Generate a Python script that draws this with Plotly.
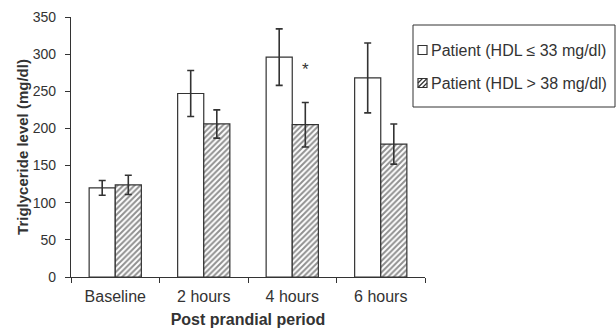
import plotly.graph_objects as go

categories = ["Baseline", "2 hours", "4 hours", "6 hours"]
low_hdl_mean = [120, 247, 296, 268]
low_hdl_err = [10, 31, 38, 47]
high_hdl_mean = [124, 206, 205, 179]
high_hdl_err = [13, 19, 30, 27]
series_names = ["Patient (HDL \u2264 33 mg/dl)", "Patient (HDL > 38 mg/dl)"]
star_category = "4 hours"
star_value = 280

FONT = "Liberation Sans, Arial, sans-serif"
INK = "#333333"

W, H = 616, 334
ML, MR, MT, MB = 71, 191, 17, 57
PW, PH = W - ML - MR, H - MT - MB


def px(x):
    return (x - ML) / PW


def py(y):
    return (H - MB - y) / PH


fig = go.Figure()
fig.add_trace(go.Bar(
    x=categories, y=low_hdl_mean, name=series_names[0],
    marker=dict(color="white", line=dict(color=INK, width=1.2)),
    error_y=dict(type="data", array=low_hdl_err, color=INK, thickness=1.6, width=3.5),
    showlegend=False,
))
fig.add_trace(go.Bar(
    x=categories, y=high_hdl_mean, name=series_names[1],
    marker=dict(color="white", line=dict(color=INK, width=1.2),
                pattern=dict(shape="/", fgcolor="#222222", bgcolor="white", size=4, solidity=0.5)),
    error_y=dict(type="data", array=high_hdl_err, color=INK, thickness=1.6, width=3.5),
    showlegend=False,
))

fig.add_annotation(x=star_category, y=star_value, xref="x", yref="y", text="*",
                   showarrow=False, xshift=13, font=dict(size=17, color=INK, family=FONT))

# legend box (drawn manually to match the compact reference legend)
shapes = [
    dict(type="rect", xref="paper", yref="paper", x0=px(413), x1=px(615), y0=py(107), y1=py(25),
         line=dict(color=INK, width=1), fillcolor="white", layer="above"),
    dict(type="rect", xref="paper", yref="paper", x0=px(418), x1=px(427), y0=py(54.5), y1=py(45.5),
         line=dict(color=INK, width=1.2), fillcolor="white", layer="above"),
    dict(type="rect", xref="paper", yref="paper", x0=px(418), x1=px(427), y0=py(87.5), y1=py(78.5),
         line=dict(color=INK, width=1.2), fillcolor="white", layer="above"),
]
for (x0, y0, x1, y1) in [(418, 87.5, 427, 78.5), (418, 83, 422.5, 78.5), (422.5, 87.5, 427, 83)]:
    shapes.append(dict(type="line", xref="paper", yref="paper", x0=px(x0), y0=py(y0), x1=px(x1), y1=py(y1),
                       line=dict(color=INK, width=1.2), layer="above"))
for name, yc in zip(series_names, [50, 83]):
    fig.add_annotation(x=px(429), y=py(yc), xref="paper", yref="paper", text=name,
                       xanchor="left", yanchor="middle", showarrow=False,
                       font=dict(size=16, color=INK, family=FONT))

fig.update_layout(
    width=W, height=H,
    margin=dict(l=ML, r=MR, t=MT, b=MB, autoexpand=False),
    paper_bgcolor="white", plot_bgcolor="white",
    barmode="group", bargap=0.41, bargroupgap=0,
    font=dict(family=FONT, color=INK),
    showlegend=False,
    shapes=shapes,
    xaxis=dict(showline=True, linecolor=INK, linewidth=1.2, ticks="outside",
               tickson="boundaries", ticklen=5, tickcolor=INK, ticklabelstandoff=5,
               tickfont=dict(size=16, color=INK),
               title=dict(text="<b>Post prandial period</b>", font=dict(size=16, color=INK), standoff=9),
               showgrid=False),
    yaxis=dict(range=[0, 350], dtick=50, showline=True, linecolor=INK, linewidth=1.2,
               ticks="outside", ticklen=5, tickcolor=INK, ticklabelstandoff=6,
               tickfont=dict(size=14, color=INK),
               title=dict(text="<b>Triglyceride level (mg/dl)</b>", font=dict(size=15, color=INK), standoff=0),
               showgrid=False, zeroline=False),
)

fig.write_html("out.html", post_script="document.body.style.margin='0';",
               config={"displayModeBar": False})
